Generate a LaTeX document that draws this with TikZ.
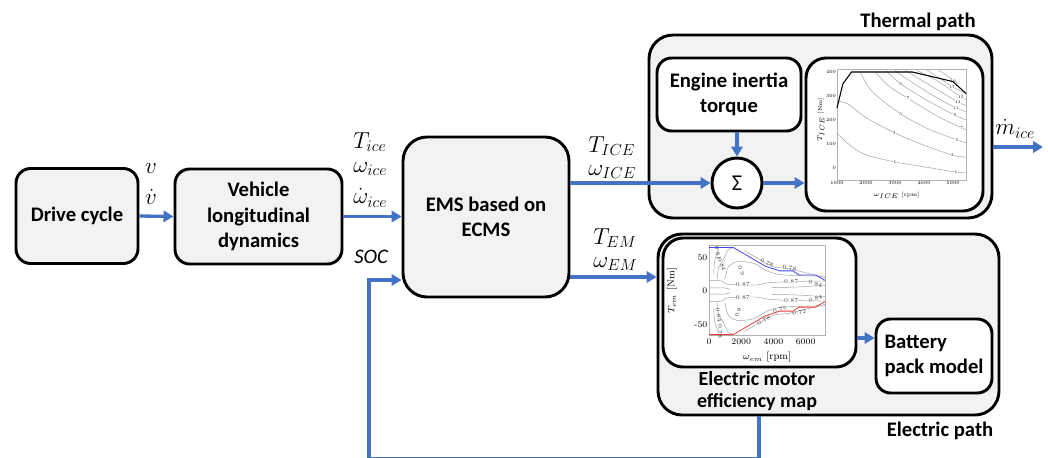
\documentclass[tikz,border=0pt]{standalone}
\usepackage{fontspec}
\newfontfamily\carl{Carlito}
\usetikzlibrary{arrows.meta}
\definecolor{lineblue}{HTML}{4472C4}
\definecolor{boxgray}{HTML}{F2F2F2}
\definecolor{emblue}{RGB}{70,70,235}
\definecolor{emred}{RGB}{235,60,60}
\begin{document}
\begin{tikzpicture}[x=0.75pt,y=-0.75pt,
  bx/.style={draw=black,line width=2.2pt,fill=boxgray,rounded corners=11pt,align=center,inner sep=2pt,font=\carl\bfseries\fontsize{15.5}{19}\selectfont},
  wbx/.style={bx,fill=white},
  arr/.style={draw=lineblue,line width=2.5pt,-{Triangle[length=7.5pt,width=8.5pt]}},
  lbl/.style={font=\carl\bfseries\fontsize{15.5}{19}\selectfont,inner sep=0pt,align=center},
  mth/.style={font=\fontsize{17}{20}\selectfont,inner sep=0pt,anchor=west},
  tk/.style={font=\fontsize{3.6}{4}\selectfont,inner sep=0.6pt},
  tkb/.style={font=\fontsize{6.5}{7}\selectfont,inner sep=1pt},
  cl/.style={font=\fontsize{4.3}{5}\selectfont,inner sep=0pt,text=black!75},
  ctr/.style={draw=gray!75,line width=0.35pt},
  axb/.style={draw=gray!60,line width=0.3pt}
]
\fill[white] (0,0) rectangle (1048,457);
\useasboundingbox (0,0) rectangle (1048,457);

% main chain
\node[bx,minimum width=91.5pt,minimum height=71.25pt] (dc) at (77,216) {Drive cycle};
\node[bx,minimum width=125.25pt,minimum height=71.25pt] (vld) at (258.5,216.5) {Vehicle\\longitudinal\\dynamics};
\node[bx,rounded corners=18pt,minimum width=124.5pt,minimum height=120pt] (ems) at (486,217) {EMS based on\\ECMS};

% thermal path
\node[bx,rounded corners=18pt,minimum width=257.25pt,minimum height=137.25pt] (therm) at (820.5,126.5) {};
\node[lbl] (thl) at (918,22) {Thermal path};
\node[wbx,minimum width=108pt,minimum height=54.75pt] (eit) at (729,94.5) {Engine inertia\\torque};
\node[circle,draw,line width=2.2pt,fill=white,minimum size=37.5pt,inner sep=0pt,font=\carl\fontsize{17}{17}\selectfont] (sig) at (737,183) {Σ};
\node[wbx,rounded corners=15pt,minimum width=132.75pt,minimum height=114.75pt] (tplot) at (894.5,134.5) {};

% electric path
\node[bx,rounded corners=18pt,minimum width=255.75pt,minimum height=135.75pt] (elec) at (828.5,324.5) {};
\node[lbl] (ell) at (940,431) {Electric path};
\node[wbx,rounded corners=15pt,minimum width=144.75pt,minimum height=96.75pt] (emplot) at (759.5,302.5) {};
\node[lbl,font=\carl\bfseries\fontsize{15}{17}\selectfont] (eml) at (757,391) {Electric motor\\efficiency map};
\node[wbx,align=left,minimum width=87pt,minimum height=55.5pt] (bat) at (934,356) {Battery\\pack model};

% labels
\node[mth,anchor=center] (lv) at (151,169) {$v$};
\node[mth,anchor=center] (lvd) at (151,197) {$\dot v$};
\node[mth] (lt) at (353,142) {$T_{ice}$};
\node[mth] (lw) at (353,169) {$\omega_{ice}$};
\node[mth] (lwd) at (353,198) {$\dot\omega_{ice}$};
\node[mth,font=\carl\itshape\fontsize{15.5}{18}\selectfont] (lsoc) at (354,257) {SOC};
\node[mth] (ltI) at (588,146) {$T_{ICE}$};
\node[mth] (lwI) at (588,172) {$\omega_{ICE}$};
\node[mth] (ltE) at (593,238) {$T_{EM}$};
\node[mth] (lwE) at (593,264) {$\omega_{EM}$};
\node[mth] (lm) at (995,129) {$\dot m_{ice}$};

% connectors
\draw[arr] (dc.east) -- (vld.west);
\draw[arr] (vld.east) -- (vld.east -| ems.west);
\draw[arr] (ems.east |- sig) -- (sig.west);
\draw[arr] (sig.east) -- (tplot.west |- sig);
\draw[arr] (sig.north |- eit.south) -- (sig.north);
\coordinate (mout) at (1043,147);
\draw[arr] (therm.east |- mout) -- (mout);
\coordinate (emout) at ([yshift=-45pt]ems.east);
\draw[arr] (emout) -- (emout -| elec.west);
\coordinate (batin) at ([yshift=13.5pt]bat.west);
\draw[arr] (emplot.east |- batin) -- (batin);
\coordinate (socin) at ([yshift=-47.25pt]ems.west);
\coordinate (fbr) at (759,459);
\coordinate (fbl) at (369,459);
\draw[arr] (elec.south -| fbr) -- (fbr) -- (fbl) |- (socin);

% thermal map plot
\begin{scope}[shift={(837,168)},x=21.75pt,y=18pt]
  \draw[axb] (0,-0.5) rectangle (4.45,4.1);
  \foreach \i/\l in {0/1000,1/2000,2/3000,3/4000,4/5000}
    \node[tk,below] at (\i,-0.5) {\l};
  \foreach \j/\l in {0/0,1/100,2/200,3/300,4/400}
    \node[tk,left] at (0,\j) {\l};
  \node[tk,font=\fontsize{4.2}{5}\selectfont] at (2.05,-1.15) {$\omega_{ICE}$ [rpm]};
  \node[tk,font=\fontsize{4.2}{5}\selectfont,rotate=90] at (-0.55,2) {$T_{ICE}$ [Nm]};
  \draw[ctr] plot[smooth] coordinates {(0,1.45) (0.5,0.9) (1,0.55) (2,0.25) (3,0.05) (4.1,-0.17) (4.45,-0.2)};
  \draw[ctr] plot[smooth] coordinates {(0,2.8) (0.4,2.65) (1.0,2.1) (2.0,1.46) (3,0.95) (3.97,0.54) (4.45,0.45)};
  \draw[ctr] plot[smooth] coordinates {(0.8,4.02) (1.2,3.2) (2.2,2.25) (3.2,1.6) (4.14,1.17) (4.45,1.05)};
  \draw[ctr] plot[smooth] coordinates {(1.3,4.02) (1.8,3.4) (2.45,2.9) (3.4,2.2) (4.3,1.67) (4.45,1.6)};
  \draw[ctr] plot[smooth] coordinates {(1.7,4.05) (2.2,3.5) (3.2,2.75) (4.07,2.2) (4.45,2.0)};
  \draw[ctr] plot[smooth] coordinates {(2.0,4.07) (2.3,3.8) (3.2,3.1) (4.1,2.5) (4.45,2.35)};
  \draw[ctr] plot[smooth] coordinates {(2.35,4.07) (3.2,3.45) (4.17,2.75) (4.45,2.6)};
  \draw[ctr] plot[smooth] coordinates {(2.75,4.07) (3.5,3.6) (4.27,2.96) (4.45,2.85)};
  \draw[ctr] plot[smooth] coordinates {(3.1,4.08) (3.6,3.7) (3.97,3.38) (4.45,3.1)};
  \draw[ctr] plot[smooth] coordinates {(3.5,4.08) (3.85,3.8) (4.2,3.5)};
  \foreach \x/\y/\l in {2.0/0.25/1,1.97/1.46/3,2.2/2.25/5,2.45/2.9/7,2.2/3.5/9,
     4.1/-0.17/1,3.97/0.54/3,4.14/1.17/5,4.3/1.67/7,4.07/2.2/9,4.1/2.5/11,4.17/2.75/13,4.27/2.96/15,3.97/3.38/17,4.0/3.62/19}
    \node[tk,fill=white,inner sep=0.2pt,font=\fontsize{3}{3}\selectfont] at (\x,\y) {\l};
  \draw[black,line width=0.8pt] (0,2.5) -- (0.2,3.5) -- (0.5,4.0) -- (2.6,4.0) -- (4.0,3.6) -- (4.45,3.1);
\end{scope}

% electric motor efficiency map plot
\begin{scope}[shift={(709,291)},x=12.08pt,y=5.03pt]
  \draw[axb] (0,-6.6) rectangle (7.2,6.8);
  \foreach \i/\l in {0/0,2/2000,4/4000,6/6000}
    \node[tkb,below] at (\i,-6.9) {\l};
  \foreach \j/\l in {5/50,0/0,-5/-50}
    \node[tkb,left] at (0,\j) {\l};
  \node[tkb,font=\fontsize{7.5}{8}\selectfont] at (3.6,-9.9) {$\omega_{em}$ [rpm]};
  \node[tkb,font=\fontsize{7.5}{8}\selectfont,rotate=90] at (-2.3,0) {$T_{em}$ [Nm]};
  \foreach \s in {1,-1}{
    \draw[ctr] plot[smooth] coordinates {(0,1.6*\s) (0.8,1.5*\s) (1.2,1.0*\s) (3,0.9*\s) (3.6,1.2*\s) (5,1.4*\s) (7.2,1.5*\s)};
    \draw[ctr] plot[smooth] coordinates {(3.9,0.5*\s) (5.5,0.6*\s) (7.2,0.85*\s)};
    \draw[ctr] plot[smooth] coordinates {(0,0.45*\s) (1.0,0.45*\s) (1.3,0.2*\s)};
    \draw[ctr] plot[smooth] coordinates {(1.0,1.8*\s) (1.2,3.6*\s) (1.8,4.4*\s) (2.8,4.1*\s) (3.6,3.0*\s) (4.6,2.4*\s) (7.2,2.2*\s)};
    \draw[ctr] plot[smooth] coordinates {(0.5,1.7*\s) (0.6,3.5*\s) (0.9,4.7*\s) (1.2,6.2*\s) (1.5,6.4*\s)};
    \draw[ctr] plot[smooth] coordinates {(0.3,2.5*\s) (0.35,4.5*\s) (0.6,6.3*\s)};
    \draw[ctr] plot[smooth] coordinates {(2.2,6.0*\s) (3.0,4.9*\s) (4.0,3.6*\s) (5.0,3.3*\s) (7.2,2.0*\s)};
  }
  \draw[emblue,line width=0.6pt] (0,6.5) -- (1.5,6.5) -- (3.5,3.7) -- (4.4,3.0) -- (5.2,3.0) -- (5.6,2.4) -- (6.6,2.4) -- (7.2,1.6);
  \draw[emred,line width=0.6pt] (0,-6.5) -- (1.5,-6.5) -- (3.5,-3.7) -- (4.4,-3.0) -- (5.2,-3.0) -- (5.6,-2.4) -- (6.6,-2.4) -- (7.2,-1.6);
  \node[cl,rotate=-80] at (0.55,5.6) {0.81};
  \node[cl,rotate=-70] at (0.8,4.0) {0.84};
  \node[cl,rotate=-70] at (2.0,3.0) {0.9};
  \node[cl,fill=white] at (2.1,0.95) {0.87};
  \node[cl,fill=white] at (5.1,1.45) {0.87};
  \node[cl,rotate=-15] at (6.6,1.1) {0.84};
  \node[cl,rotate=-25] at (3.6,4.2) {0.78};
  \node[cl,rotate=-10] at (5.0,3.4) {0.78};
  \node[cl,fill=white] at (2.1,-0.95) {0.87};
  \node[cl,fill=white] at (5.1,-1.4) {0.87};
  \node[cl,rotate=15] at (6.6,-1.1) {0.84};
  \node[cl,rotate=70] at (1.8,-3.2) {0.9};
  \node[cl,rotate=-80] at (0.6,-3.6) {0.84};
  \node[cl,rotate=-90] at (0.7,-6.0) {0.78};
  \node[cl,rotate=25] at (3.4,-4.4) {0.78};
  \node[cl,rotate=15] at (4.4,-2.8) {0.75};
  \node[cl,rotate=10] at (5.6,-3.2) {0.72};
\end{scope}
\end{tikzpicture}
\end{document}
